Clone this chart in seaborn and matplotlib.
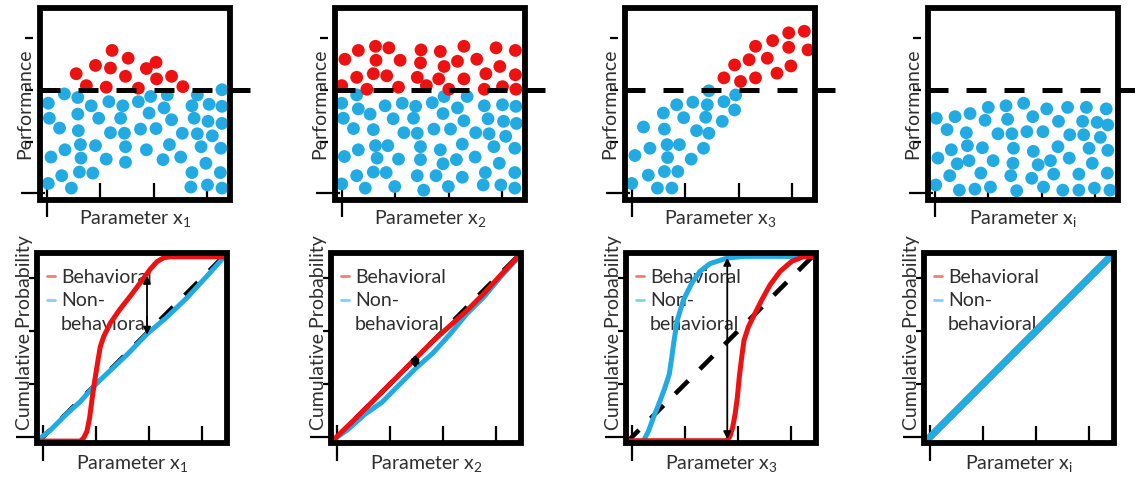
import numpy as np
import pandas as pd
import matplotlib
matplotlib.use("Agg")
import matplotlib.pyplot as plt
from matplotlib.lines import Line2D
from matplotlib.patches import Rectangle
import seaborn as sns

RED = "#EE1111"
BLUE = "#22AAE2"
TEXT = "#2e2e2e"

SUBSCRIPTS = ["1", "2", "3", "i"]
THRESHOLD = 2.0

# top row: (parameter, performance) of each sample, tick spacing = 1
P1_BEHAV = [(1.22, 2.76), (1.52, 2.61), (0.91, 2.47), (1.19, 2.42), (1.86, 2.41), (2.04, 2.53),
            (0.55, 2.31), (1.47, 2.26), (2.05, 2.21), (2.33, 2.26), (0.74, 2.08), (1.11, 2.05),
            (1.71, 2.03), (2.54, 2.06)]
P1_NONBEHAV = [(0.03, 1.74), (0.33, 1.92), (0.58, 1.85), (0.83, 1.69), (1.16, 1.77), (1.42, 1.69),
               (1.71, 1.77), (1.94, 1.87), (2.19, 1.65), (2.25, 1.90), (2.71, 1.69), (2.81, 1.90),
               (3.03, 1.72), (3.27, 1.68), (3.27, 2.00),
               (0.05, 1.45), (0.58, 1.53), (0.97, 1.45), (1.38, 1.45), (1.91, 1.55), (2.33, 1.42),
               (2.75, 1.45), (3.01, 1.39), (3.27, 1.35),
               (0.24, 1.26), (0.59, 1.21), (1.19, 1.17), (1.45, 1.16), (1.75, 1.24), (2.04, 1.25),
               (2.53, 1.16), (2.81, 1.15), (3.09, 1.11),
               (0.63, 0.94), (0.91, 0.92), (0.34, 0.84), (1.47, 0.90), (1.86, 0.84), (2.29, 0.94),
               (2.88, 0.90), (3.25, 0.87),
               (0.08, 0.70), (0.64, 0.68), (1.11, 0.66), (1.47, 0.60), (2.17, 0.65), (2.50, 0.70),
               (2.97, 0.58),
               (0.28, 0.34), (0.61, 0.41), (0.86, 0.39), (2.71, 0.40), (3.24, 0.40),
               (0.03, 0.19), (0.46, 0.10), (2.69, 0.12), (3.00, 0.16), (3.27, 0.10)]

P2_BEHAV = [(0.06, 2.59), (0.31, 2.76), (0.63, 2.84), (0.88, 2.81), (0.64, 2.57), (1.09, 2.57),
            (1.48, 2.77), (1.47, 2.52), (1.84, 2.74), (1.91, 2.45), (2.16, 2.55), (2.28, 2.84),
            (2.52, 2.59), (2.88, 2.81), (2.95, 2.45), (3.24, 2.76),
            (0.28, 2.24), (0.59, 2.31), (0.84, 2.27), (1.41, 2.24), (1.81, 2.21), (2.28, 2.21),
            (2.69, 2.31), (3.24, 2.29),
            (0.00, 2.08), (0.47, 2.01), (1.06, 2.05), (1.58, 2.08), (2.00, 2.01), (2.66, 2.01),
            (3.00, 2.06), (3.25, 2.01)]
P2_NONBEHAV = [(0.28, 1.90), (0.00, 1.74), (0.31, 1.63), (0.81, 1.69), (1.13, 1.74), (1.38, 1.68),
               (1.69, 1.75), (1.91, 1.87), (2.16, 1.65), (2.34, 1.87), (2.66, 1.69), (3.00, 1.71),
               (3.25, 1.68),
               (0.03, 1.45), (0.53, 1.53), (0.96, 1.44), (1.34, 1.45), (1.89, 1.54), (2.28, 1.40),
               (2.73, 1.44), (3.02, 1.39), (3.26, 1.35),
               (0.22, 1.25), (0.59, 1.23), (1.16, 1.17), (1.41, 1.16), (1.72, 1.24), (2.03, 1.24),
               (2.50, 1.17), (2.75, 1.15), (3.06, 1.10),
               (0.31, 0.84), (0.63, 0.92), (0.86, 0.92), (1.47, 0.90), (1.84, 0.84), (2.25, 0.95),
               (2.84, 0.90), (3.23, 0.87),
               (0.05, 0.71), (0.66, 0.68), (1.06, 0.66), (1.47, 0.65), (1.89, 0.57), (2.14, 0.65),
               (2.49, 0.70), (2.94, 0.58),
               (0.28, 0.34), (0.59, 0.41), (0.83, 0.40), (1.41, 0.34), (1.76, 0.34), (2.25, 0.31),
               (2.68, 0.40), (3.23, 0.40),
               (0.00, 0.18), (0.44, 0.10), (0.99, 0.13), (1.53, 0.06), (1.99, 0.13), (2.64, 0.16),
               (2.97, 0.16), (3.23, 0.10)]

P3_BEHAV = [(2.93, 3.10), (3.22, 3.13), (2.63, 2.95), (2.31, 2.84), (2.93, 2.82), (3.29, 2.77),
            (2.19, 2.58), (2.53, 2.61), (1.92, 2.48), (2.97, 2.46), (2.71, 2.32), (1.72, 2.23),
            (2.03, 2.16), (2.31, 2.23)]
P3_NONBEHAV = [(1.44, 1.98), (1.94, 1.90), (1.14, 1.76), (0.84, 1.71), (1.41, 1.71), (1.72, 1.77),
               (0.59, 1.55), (0.97, 1.46), (1.38, 1.47), (1.92, 1.61), (0.22, 1.28), (0.61, 1.24),
               (1.69, 1.39), (1.21, 1.21), (1.44, 1.16), (0.34, 0.87), (0.66, 0.94), (0.89, 0.94),
               (1.34, 0.87), (0.06, 0.73), (0.67, 0.69), (1.11, 0.66), (0.31, 0.35), (0.61, 0.42),
               (0.86, 0.42), (0.00, 0.19), (0.48, 0.10), (0.75, 0.10)]

P4_BEHAV = []
P4_NONBEHAV = [(1.00, 1.66), (1.33, 1.69), (1.66, 1.74), (2.09, 1.63), (2.48, 1.66), (2.83, 1.66),
               (3.20, 1.63),
               (0.03, 1.45), (0.38, 1.48), (0.66, 1.54), (0.94, 1.41), (1.36, 1.43), (1.83, 1.48),
               (2.31, 1.39), (2.76, 1.39), (3.03, 1.37), (3.23, 1.32),
               (0.23, 1.23), (0.59, 1.17), (1.18, 1.15), (1.44, 1.15), (1.72, 1.19), (2.02, 1.19),
               (2.52, 1.13), (2.78, 1.13), (3.09, 1.08),
               (0.31, 0.84), (0.61, 0.92), (0.89, 0.88), (1.47, 0.87), (1.84, 0.81), (2.30, 0.90),
               (2.88, 0.87), (3.23, 0.83),
               (0.06, 0.68), (0.42, 0.57), (0.64, 0.63), (1.09, 0.63), (1.46, 0.58), (1.93, 0.55),
               (2.16, 0.63), (2.51, 0.68), (2.94, 0.58),
               (0.28, 0.34), (0.86, 0.39), (1.42, 0.34), (1.81, 0.29), (2.22, 0.37), (2.69, 0.37),
               (3.22, 0.39),
               (0.02, 0.16), (0.46, 0.06), (0.75, 0.08), (1.04, 0.12), (1.53, 0.05), (2.03, 0.12),
               (2.39, 0.06), (2.69, 0.06), (2.98, 0.10), (3.27, 0.06)]

TOP_BEHAV = [P1_BEHAV, P2_BEHAV, P3_BEHAV, P4_BEHAV]
TOP_NONBEHAV = [P1_NONBEHAV, P2_NONBEHAV, P3_NONBEHAV, P4_NONBEHAV]

# bottom row: cumulative distributions, parameter scaled to 0..1
C1_BEHAV_X = [0.0, 0.228, 0.246, 0.263, 0.277, 0.291, 0.304, 0.318, 0.333, 0.351, 0.386, 0.435,
              0.491, 0.544, 0.596, 0.632, 0.667, 0.702, 1.0]
C1_BEHAV_Y = [0.01, 0.01, 0.027, 0.062, 0.133, 0.24, 0.329, 0.417, 0.506, 0.56, 0.631, 0.702,
              0.773, 0.844, 0.915, 0.955, 0.975, 0.98, 0.98]
C1_NONBEHAV_X = [0.0, 0.07, 0.158, 0.228, 0.307, 0.386, 0.474, 0.579, 0.684, 0.789, 0.895, 0.991]
C1_NONBEHAV_Y = [0.012, 0.067, 0.155, 0.218, 0.307, 0.382, 0.465, 0.574, 0.663, 0.764, 0.879, 0.986]

C2_BEHAV_X = [0.0, 0.125, 0.25, 0.357, 0.446, 0.536, 0.625, 0.714, 0.804, 0.893, 1.0]
C2_BEHAV_Y = [0.004, 0.125, 0.25, 0.357, 0.446, 0.536, 0.616, 0.696, 0.786, 0.884, 0.996]
C2_NONBEHAV_X = [0.0, 0.089, 0.179, 0.268, 0.357, 0.446, 0.536, 0.625, 0.714, 0.804, 0.893, 0.982]
C2_NONBEHAV_Y = [0.009, 0.071, 0.152, 0.214, 0.304, 0.393, 0.473, 0.571, 0.679, 0.768, 0.875, 0.973]

C3_BEHAV_X = [0.0, 0.53, 0.547, 0.561, 0.574, 0.586, 0.596, 0.609, 0.621, 0.644, 0.67, 0.714,
              0.758, 0.811, 0.872, 0.933, 1.0]
C3_BEHAV_Y = [0.012, 0.012, 0.035, 0.08, 0.15, 0.239, 0.345, 0.451, 0.54, 0.611, 0.664, 0.752,
              0.832, 0.903, 0.956, 0.98, 0.982]
C3_NONBEHAV_X = [0.091, 0.118, 0.144, 0.179, 0.205, 0.228, 0.241, 0.253, 0.27, 0.302, 0.346,
                 0.389, 0.442, 0.53, 0.618, 1.0]
C3_NONBEHAV_Y = [0.009, 0.062, 0.133, 0.221, 0.292, 0.363, 0.451, 0.54, 0.646, 0.752, 0.841,
                 0.903, 0.944, 0.973, 0.982, 0.982]

C4_BEHAV_X = [0.0, 1.0]
C4_BEHAV_Y = [0.0, 1.0]
C4_NONBEHAV_X = [0.0, 1.0]
C4_NONBEHAV_Y = [0.0, 1.0]

CDF_BEHAV = [(C1_BEHAV_X, C1_BEHAV_Y), (C2_BEHAV_X, C2_BEHAV_Y),
             (C3_BEHAV_X, C3_BEHAV_Y), (C4_BEHAV_X, C4_BEHAV_Y)]
CDF_NONBEHAV = [(C1_NONBEHAV_X, C1_NONBEHAV_Y), (C2_NONBEHAV_X, C2_NONBEHAV_Y),
                (C3_NONBEHAV_X, C3_NONBEHAV_Y), (C4_NONBEHAV_X, C4_NONBEHAV_Y)]
UNIFORM = [0.0, 1.0]

# largest gap between the two distributions (KS statistic)
GAP_X = [0.579, 0.443, 0.533, None]
GAP_LO = [0.57, 0.39, 0.02, None]
GAP_HI = [0.88, 0.47, 0.975, None]

sns.set_theme(style="white")
plt.rcParams["font.family"] = ["Lato", "DejaVu Sans"]
FS = 14

W, H = 1135, 478
fig = plt.figure(figsize=(W / 100, H / 100), dpi=100)


def px_axes(left, top, w, h):
    return fig.add_axes([left / W, 1 - (top + h) / H, w / W, h / H])


def frame(ax, xt, yt, y_offset, first_x, first_y, first_y_marker):
    for sp in ax.spines.values():
        sp.set_visible(False)
    ax.spines["left"].set_position(("outward", y_offset))
    ax.add_patch(Rectangle((0, 0), 1, 1, transform=ax.transAxes, fill=False,
                           ec="black", lw=4.2, clip_on=False, zorder=6))
    ax.set_xticks(xt)
    ax.set_yticks(yt)
    ax.tick_params(axis="x", direction="in", length=12, width=1.6, color="black",
                   bottom=True, top=False, labelbottom=False)
    ax.tick_params(axis="y", direction="out", length=6, width=1.6, color="black",
                   left=True, right=False, labelleft=False)
    t = ax.xaxis.get_major_ticks()[0]
    t.tick1line.set_marker("|")
    t.tick1line.set_markersize(first_x)
    t = ax.yaxis.get_major_ticks()[0]
    t.tick1line.set_marker(first_y_marker)
    t.tick1line.set_markersize(first_y)


# Top row: performance vs parameter
TOP_LEFTS = [40, 335, 625, 928]
for i in range(4):
    ax = px_axes(TOP_LEFTS[i], 8, 190, 192)
    nb = np.array(TOP_NONBEHAV[i]).reshape(-1, 2)
    bh = np.array(TOP_BEHAV[i]).reshape(-1, 2)
    df = pd.concat([
        pd.DataFrame({"param": nb[:, 0], "perf": nb[:, 1], "group": "Non-behavioral"}),
        pd.DataFrame({"param": bh[:, 0], "perf": bh[:, 1], "group": "Behavioral"}),
    ], ignore_index=True)
    sns.scatterplot(data=df, x="param", y="perf", hue="group",
                    palette={"Behavioral": RED, "Non-behavioral": BLUE},
                    s=85, linewidth=0, legend=False, ax=ax, zorder=2)
    ax.plot([-0.125, 3.85], [THRESHOLD, THRESHOLD], color="black", lw=3.6,
            ls=(0, (4, 3.6)), clip_on=False, zorder=4)
    ax.set_xlim(-0.125, 3.42)
    ax.set_ylim(-0.13, 3.58)
    frame(ax, [0, 1, 2, 3], [0, 1, 2, 3], 5, 24, 17, "_")
    ax.set_xlabel("Parameter x$_\\mathregular{%s}$" % SUBSCRIPTS[i], fontsize=FS, color=TEXT)
    ax.xaxis.set_label_coords(0.5, -0.045)
    ax.set_ylabel("Performance", fontsize=FS, color=TEXT)
    ax.yaxis.set_label_coords(-0.035, 0.5)

# Bottom row: cumulative probability
BOT_LEFTS = [37, 331, 626, 924]
TICKS = [0.03, 0.31, 0.59, 0.87]
for i in range(4):
    ax = px_axes(BOT_LEFTS[i], 253, 190, 190)
    ax.plot(UNIFORM, UNIFORM, color="black", lw=3.3, ls=(0, (4, 3.6)), zorder=2)
    bx, by = CDF_BEHAV[i]
    nx, ny = CDF_NONBEHAV[i]
    lw_c = 5.0 if i == 3 else 3.6
    if i == 3:
        sns.lineplot(x=bx, y=by, color=RED, lw=lw_c, sort=False, estimator=None, ax=ax, zorder=3)
        sns.lineplot(x=nx, y=ny, color=BLUE, lw=lw_c, sort=False, estimator=None, ax=ax, zorder=3)
    else:
        sns.lineplot(x=nx, y=ny, color=BLUE, lw=lw_c, sort=False, estimator=None, ax=ax, zorder=3)
        sns.lineplot(x=bx, y=by, color=RED, lw=lw_c, sort=False, estimator=None, ax=ax, zorder=3)
    if GAP_X[i] is not None:
        thick = i == 1
        ax.annotate("", xy=(GAP_X[i], GAP_HI[i]), xytext=(GAP_X[i], GAP_LO[i]),
                    arrowprops=dict(arrowstyle="<|-|>", color="black",
                                    lw=2.6 if thick else 1.3,
                                    mutation_scale=9 if thick else 11,
                                    shrinkA=0, shrinkB=0), zorder=4)
    ax.set_xlim(0, 1)
    ax.set_ylim(0, 1)
    frame(ax, TICKS, TICKS, 0, 26, 15, 0)

    handles = [Line2D([], [], color=RED, lw=2, alpha=0.55),
               Line2D([], [], color=BLUE, lw=2, alpha=0.55),
               Line2D([], [], color="none", lw=0)]
    leg = ax.legend(handles, ["Behavioral", "Non-", "behavioral"], loc="upper left",
                    bbox_to_anchor=(0.05, 0.915), frameon=False, handlelength=0.45,
                    handletextpad=0.3, labelspacing=0.32, fontsize=FS,
                    borderaxespad=0, borderpad=0, labelcolor=TEXT)
    leg.set_zorder(1.5)

    ax.set_xlabel("Parameter x$_\\mathregular{%s}$" % SUBSCRIPTS[i], fontsize=FS, color=TEXT)
    ax.xaxis.set_label_coords(0.5, -0.055)
    ax.set_ylabel("Cumulative Probability", fontsize=FS, color=TEXT)
    ax.yaxis.set_label_coords(-0.02, 0.58)

fig.savefig("out.png", dpi=100, facecolor="white")
